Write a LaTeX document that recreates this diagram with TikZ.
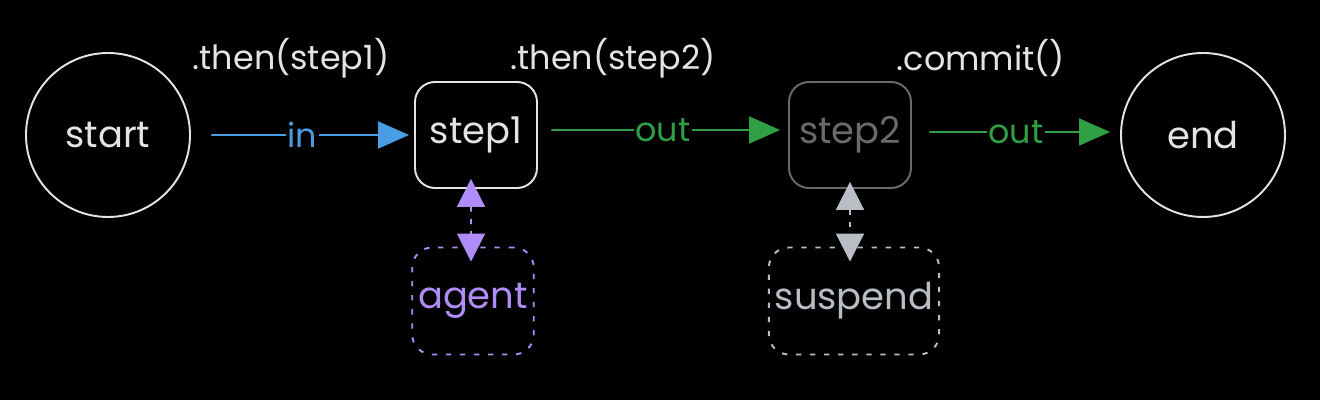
\documentclass[tikz,border=0pt]{standalone}
\usepackage{fontspec}
\setmainfont{Poppins}
\usetikzlibrary{positioning,arrows.meta}
\definecolor{inkwhite}{HTML}{E4E4E4}
\definecolor{inblue}{HTML}{4A9CE3}
\definecolor{okgreen}{HTML}{2F9E44}
\definecolor{agentpurple}{HTML}{B08CF8}
\definecolor{dimgray}{HTML}{6A6A6A}
\definecolor{softgray}{HTML}{B8BEC4}
\tikzset{
  every picture/.style={line width=1.1pt},
  term/.style={draw=inkwhite,circle,minimum size=32.8mm,inner sep=0,text=inkwhite,font=\fontsize{21}{24}\selectfont},
  blk/.style={draw=inkwhite,rectangle,rounded corners=4mm,minimum width=24.4mm,minimum height=21.2mm,align=center,text=inkwhite,font=\fontsize{21}{24}\selectfont},
  dblk/.style={blk,dash pattern=on 3pt off 5pt},
  lbl/.style={text=inkwhite,font=\fontsize{19}{22}\selectfont,inner sep=1pt},
  elbl/.style={fill=black,font=\fontsize{19}{22}\selectfont,inner sep=1pt},
  flow/.style={-{Triangle[length=6.2mm,width=5.4mm]},line width=1.1pt,line cap=round},
  dflow/.style={{Triangle[length=5.6mm,width=5.6mm]}-{Triangle[length=5.6mm,width=5.6mm]},line width=1.1pt,dash pattern=on 3pt off 4pt},
}

\begin{document}
\begin{tikzpicture}[x=1cm,y=1cm]
\fill[black] (0,0) rectangle (26.4,8);
\useasboundingbox (0,0) rectangle (26.4,8);
% terminals
\node[term] (st) at (2.16,5.3) {start};
\node[term] (en) at (24.06,5.3) {end};
% steps
\node[blk] (s1) at (9.52,5.3) {step1};
\node[blk,draw=dimgray,text=dimgray] (s2) at (17.0,5.3) {step2};
% side boxes
\node[dblk,draw=agentpurple,text=agentpurple,minimum width=23.4mm,minimum height=21.4mm] (ag) at (9.46,1.98) {agent};
\node[dblk,draw=softgray,text=softgray,minimum width=33.6mm,minimum height=21.4mm] (su) at (17.08,1.98) {suspend};
% chain calls
\node[lbl] (c1) at (5.82,6.84) {.then(step1)};
\node[lbl] (c2) at (12.26,6.84) {.then(step2)};
\node[lbl] (c3) at (19.62,6.84) {.commit()};
% flow
\draw[flow,inblue,shorten <=4.2mm,shorten >=1mm] (st) -- node[elbl,text=inblue] {in} (s1);
\draw[flow,okgreen,shorten <=2.8mm,shorten >=1.6mm] ([yshift=1mm]s1.east) -- node[elbl,text=okgreen] {out} ([yshift=1mm]s2.west);
\draw[flow,okgreen,shorten <=3.6mm,shorten >=2mm] ([yshift=0.6mm]s2.east) -- node[elbl,text=okgreen] {out} ([yshift=0.6mm]en.west);
% side calls
\draw[dflow,agentpurple] ([xshift=-1mm,yshift=2mm]s1.south) -- ([xshift=-0.4mm,yshift=-3mm]ag.north);
\draw[dflow,softgray] ([yshift=1.4mm]s2.south) -- ([yshift=-3mm]s2.south |- su.north);
\end{tikzpicture}
\end{document}
